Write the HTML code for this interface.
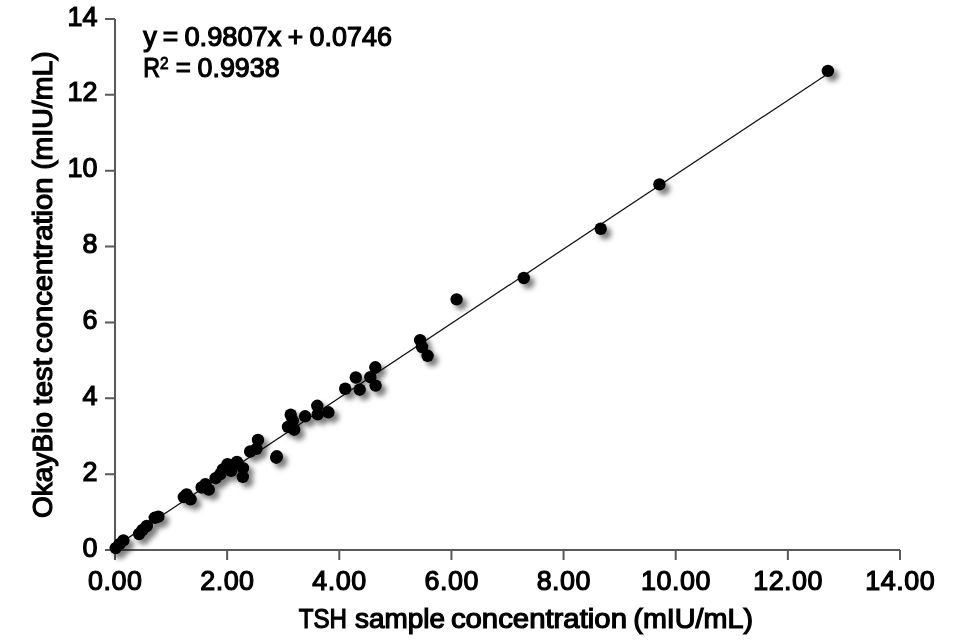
<!DOCTYPE html>
<html><head><meta charset="utf-8"><style>html,body{margin:0;padding:0;background:#fff;}svg{display:block;will-change:transform;}text{font-family:"Liberation Sans",sans-serif;fill:#000;}</style></head>
<body><svg width="964" height="640" viewBox="0 0 964 640" font-family="Liberation Sans, sans-serif">
<defs><filter id="sh" x="-20%" y="-20%" width="140%" height="140%"><feDropShadow dx="4.5" dy="4.5" stdDeviation="2.8" flood-color="#000" flood-opacity="0.5"/></filter></defs>
<rect width="964" height="640" fill="#fff"/>
<path d="M115 19 V550 H900" fill="none" stroke="#595959" stroke-width="2"/>
<path d="M105 550.00 H115 M115.00 550 V560 M105 474.14 H115 M227.14 550 V560 M105 398.29 H115 M339.29 550 V560 M105 322.43 H115 M451.43 550 V560 M105 246.57 H115 M563.57 550 V560 M105 170.71 H115 M675.71 550 V560 M105 94.86 H115 M787.86 550 V560 M105 19.00 H115 M900.00 550 V560 " fill="none" stroke="#595959" stroke-width="2"/>
<line x1="115" y1="546.61" x2="827.9" y2="73.67" stroke="#111" stroke-width="1.25"/>
<g filter="url(#sh)" fill="#000"><circle cx="115.7" cy="548.1" r="6.2"/><circle cx="119.5" cy="544.2" r="6.2"/><circle cx="123.4" cy="540.4" r="6.2"/><circle cx="139.1" cy="534" r="6.2"/><circle cx="142.5" cy="530" r="6.2"/><circle cx="146.8" cy="526" r="6.2"/><circle cx="154.75" cy="517.8" r="6.2"/><circle cx="158.4" cy="516.6" r="6.2"/><circle cx="183.8" cy="497.1" r="6.2"/><circle cx="186.6" cy="494.4" r="6.2"/><circle cx="190.6" cy="499.3" r="6.2"/><circle cx="201.6" cy="487.5" r="6.2"/><circle cx="205.4" cy="484.1" r="6.2"/><circle cx="208.8" cy="489.6" r="6.2"/><circle cx="215.6" cy="478.2" r="6.2"/><circle cx="220.5" cy="474" r="6.2"/><circle cx="222.8" cy="469.5" r="6.2"/><circle cx="227.5" cy="464.1" r="6.2"/><circle cx="231.25" cy="470.9" r="6.2"/><circle cx="236.9" cy="461.9" r="6.2"/><circle cx="243" cy="468.1" r="6.2"/><circle cx="242.8" cy="476.8" r="6.2"/><circle cx="250.2" cy="451.5" r="6.2"/><circle cx="256.4" cy="448.9" r="6.2"/><circle cx="258" cy="440" r="6.2"/><circle cx="276.8" cy="456.3" r="6.2"/><circle cx="276.2" cy="457.7" r="6.2"/><circle cx="288" cy="426.9" r="6.2"/><circle cx="290.7" cy="414.75" r="6.2"/><circle cx="294.2" cy="429.7" r="6.2"/><circle cx="305.1" cy="416.3" r="6.2"/><circle cx="317.3" cy="405.8" r="6.2"/><circle cx="317.7" cy="414.4" r="6.2"/><circle cx="328.4" cy="412.3" r="6.2"/><circle cx="345.2" cy="388.75" r="6.2"/><circle cx="355.8" cy="377.5" r="6.2"/><circle cx="359.7" cy="389.7" r="6.2"/><circle cx="375.3" cy="367.3" r="6.2"/><circle cx="370.3" cy="377.2" r="6.2"/><circle cx="375.6" cy="385.6" r="6.2"/><circle cx="420.1" cy="340.1" r="6.2"/><circle cx="422" cy="347" r="6.2"/><circle cx="427.6" cy="355.8" r="6.2"/><circle cx="456.6" cy="299.35" r="6.2"/><circle cx="523.8" cy="278" r="6.2"/><circle cx="600.7" cy="228.75" r="6.2"/><circle cx="659.4" cy="184.4" r="6.2"/><circle cx="827.9" cy="70.9" r="6.2"/><circle cx="292.8" cy="420.8" r="6.2"/></g>
<g font-size="26.9" stroke="#000" stroke-width="1.2"><text x="97.5" y="556.60" text-anchor="end">0</text><text x="97.5" y="480.74" text-anchor="end">2</text><text x="97.5" y="404.89" text-anchor="end">4</text><text x="97.5" y="329.03" text-anchor="end">6</text><text x="97.5" y="253.17" text-anchor="end">8</text><text x="97.5" y="177.31" text-anchor="end">10</text><text x="97.5" y="101.46" text-anchor="end">12</text><text x="97.5" y="25.60" text-anchor="end">14</text></g>
<g font-size="26.9" stroke="#000" stroke-width="1.2"><text x="115.25" y="590.0" text-anchor="middle" letter-spacing="0.5">0.00</text><text x="227.39" y="590.0" text-anchor="middle" letter-spacing="0.5">2.00</text><text x="339.54" y="590.0" text-anchor="middle" letter-spacing="0.5">4.00</text><text x="451.68" y="590.0" text-anchor="middle" letter-spacing="0.5">6.00</text><text x="563.82" y="590.0" text-anchor="middle" letter-spacing="0.5">8.00</text><text x="675.96" y="590.0" text-anchor="middle" letter-spacing="0.5">10.00</text><text x="788.11" y="590.0" text-anchor="middle" letter-spacing="0.5">12.00</text><text x="900.25" y="590.0" text-anchor="middle" letter-spacing="0.5">14.00</text></g>
<text x="298.70" y="628.15" font-size="26.9" stroke="#000" stroke-width="1.2" textLength="48.22" lengthAdjust="spacingAndGlyphs">TSH</text>
<text x="354.98" y="628.15" font-size="26.9" stroke="#000" stroke-width="1.2" textLength="90.06" lengthAdjust="spacingAndGlyphs">sample</text>
<text x="450.91" y="628.15" font-size="26.9" stroke="#000" stroke-width="1.2" textLength="176.03" lengthAdjust="spacingAndGlyphs">concentration</text>
<text x="633.33" y="628.15" font-size="26.9" stroke="#000" stroke-width="1.2" textLength="119.66" lengthAdjust="spacingAndGlyphs">(mIU/mL)</text>
<text transform="translate(52.4,518.04) rotate(-90)" font-size="26.9" stroke="#000" stroke-width="1.2" textLength="106.14" lengthAdjust="spacingAndGlyphs">OkayBio</text>
<text transform="translate(52.4,405.10) rotate(-90)" font-size="26.9" stroke="#000" stroke-width="1.2" textLength="46.81" lengthAdjust="spacingAndGlyphs">test</text>
<text transform="translate(52.4,352.99) rotate(-90)" font-size="26.9" stroke="#000" stroke-width="1.2" textLength="175.52" lengthAdjust="spacingAndGlyphs">concentration</text>
<text transform="translate(52.4,169.86) rotate(-90)" font-size="26.9" stroke="#000" stroke-width="1.2" textLength="118.64" lengthAdjust="spacingAndGlyphs">(mIU/mL)</text>
<text x="143.20" y="46.0" font-size="26.9" stroke="#000" stroke-width="1.2" textLength="13.56" lengthAdjust="spacingAndGlyphs">y</text>
<text x="162.70" y="46.0" font-size="26.9" stroke="#000" stroke-width="1.2" textLength="15.42" lengthAdjust="spacingAndGlyphs">=</text>
<text x="184.41" y="46.0" font-size="26.9" stroke="#000" stroke-width="1.2" textLength="96.99" lengthAdjust="spacingAndGlyphs">0.9807x</text>
<text x="287.75" y="46.0" font-size="26.9" stroke="#000" stroke-width="1.2" textLength="15.36" lengthAdjust="spacingAndGlyphs">+</text>
<text x="309.62" y="46.0" font-size="26.9" stroke="#000" stroke-width="1.2" textLength="82.29" lengthAdjust="spacingAndGlyphs">0.0746</text>
<text x="143.15" y="77.1" font-size="26.9" stroke="#000" stroke-width="1.2" textLength="16.77" lengthAdjust="spacingAndGlyphs">R</text>
<text x="175.82" y="77.1" font-size="26.9" stroke="#000" stroke-width="1.2" textLength="15.08" lengthAdjust="spacingAndGlyphs">=</text>
<text x="197.52" y="77.1" font-size="26.9" stroke="#000" stroke-width="1.2" textLength="82.10" lengthAdjust="spacingAndGlyphs">0.9938</text>
<text x="160.10" y="69.2" font-size="16.6" stroke="#000" stroke-width="0.9" textLength="8.57" lengthAdjust="spacingAndGlyphs">2</text>
</svg></body></html>
